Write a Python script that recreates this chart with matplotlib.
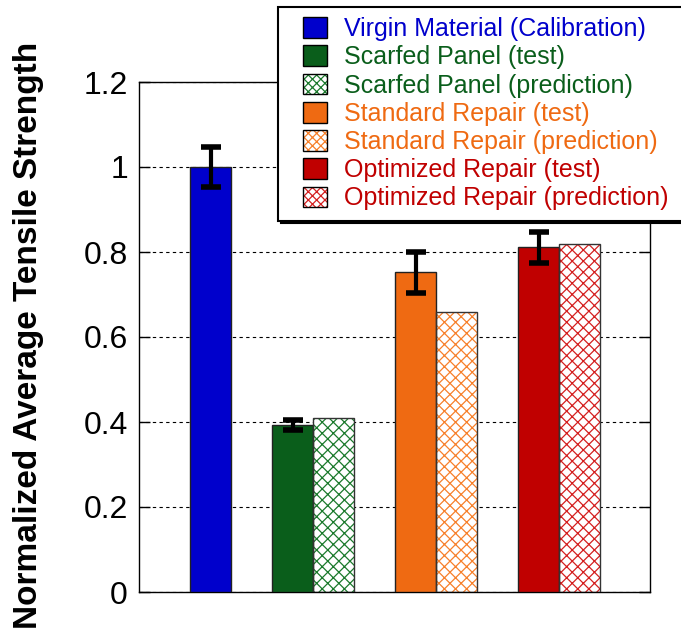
import matplotlib.pyplot as plt
from matplotlib.patches import Patch, Rectangle

plt.rcParams['font.family'] = ['Liberation Sans', 'DejaVu Sans']
plt.rcParams['hatch.linewidth'] = 0.9

# data
labels = ['Virgin Material (Calibration)',
          'Scarfed Panel (test)', 'Scarfed Panel (prediction)',
          'Standard Repair (test)', 'Standard Repair (prediction)',
          'Optimized Repair (test)', 'Optimized Repair (prediction)']
positions = [1.75, 3.75, 4.75, 6.75, 7.75, 9.75, 10.75]
values = [1.0, 0.393, 0.41, 0.752, 0.658, 0.811, 0.818]
errors = [0.047, 0.012, None, 0.048, None, 0.037, None]
hatched = [False, False, True, False, True, False, True]
colors = ['#0000cc', '#0a5e1b', '#0a5e1b', '#ef6a12', '#ef6a12', '#c00000', '#c00000']
hatch_colors = ['#0000cc', '#1b7a2c', '#1b7a2c', '#f7802a', '#f7802a', '#d42020', '#d42020']


class SquareHandler:
    """legend square drawn at the right end of the handle box"""
    def __init__(self, face, hatch_color=None):
        self.face = face
        self.hatch_color = hatch_color

    def legend_artist(self, legend, orig_handle, fontsize, handlebox):
        w, h = handlebox.width, handlebox.height
        sq = 0.95 * fontsize
        x = -handlebox.xdescent + w - sq
        y = -handlebox.ydescent
        tr = handlebox.get_transform()
        if self.hatch_color:
            p = Rectangle((x, y), sq, h, facecolor='white', edgecolor=self.hatch_color,
                          hatch='xxxx', linewidth=0, transform=tr)
            handlebox.add_artist(p)
            p = Rectangle((x, y), sq, h, facecolor='none', edgecolor='black',
                          linewidth=1.0, transform=tr)
        else:
            p = Rectangle((x, y), sq, h, facecolor=self.face, edgecolor='black',
                          linewidth=1.0, transform=tr)
        handlebox.add_artist(p)
        return p


fig = plt.figure(figsize=(6.81, 6.36), dpi=100)
ax = fig.add_axes([139/681, 1-592/636, 511/681, 510/636])

handles = []
hmap = {}
for x, v, h, c, hc in zip(positions, values, hatched, colors, hatch_colors):
    if h:
        ax.bar(x, v, width=1.0, color='white', edgecolor=hc, hatch='xxx', linewidth=0, zorder=2)
        ax.bar(x, v, width=1.0, color='none', edgecolor='#333333', linewidth=1.0, zorder=3)
    else:
        ax.bar(x, v, width=1.0, color=c, edgecolor='#222222', linewidth=1.0, zorder=3)
    hd = Patch(facecolor=c)
    handles.append(hd)
    hmap[hd] = SquareHandler(c, hc if h else None)

for x, v, e in zip(positions, values, errors):
    if e is not None:
        ax.errorbar(x, v, yerr=e, fmt='none', ecolor='black', elinewidth=3,
                    capsize=7, capthick=4, zorder=4)

ax.set_xlim(0, 12.46)
ax.set_ylim(0, 1.2)
ax.set_yticks([0, 0.2, 0.4, 0.6, 0.8, 1.0, 1.2])
ax.set_yticklabels(['0', '0.2', '0.4', '0.6', '0.8', '1', '1.2'])
ax.set_xticks([])
ax.tick_params(axis='y', direction='in', right=True, length=8, width=1,
               labelsize=23, pad=8)
ax.yaxis.grid(True, color='black', linestyle=(0, (3, 3)), linewidth=0.8, zorder=1)
ax.set_axisbelow(True)
for s in ax.spines.values():
    s.set_linewidth(1.0)

ax.set_ylabel('Normalized Average Tensile Strength', fontsize=24,
              fontweight='bold')
ax.yaxis.set_label_coords(-0.186, 0.504)

# legend box runs past the right edge of the figure, as in the original
leg = fig.legend(handles, labels, loc='upper left', handler_map=hmap,
                 bbox_to_anchor=(278/681, 1-7/636, 420/681, 0), mode='expand',
                 fontsize=18,
                 handlelength=1.56, handleheight=0.9, handletextpad=0.68,
                 labelspacing=0.17, borderpad=0.4, borderaxespad=0,
                 frameon=True, fancybox=False, shadow={'color': 'black', 'alpha': 1},
                 edgecolor='black', framealpha=1)
leg.get_frame().set_linewidth(1.5)
for t, c in zip(leg.get_texts(), colors):
    t.set_color(c)

fig.savefig('out.png', dpi=100)
